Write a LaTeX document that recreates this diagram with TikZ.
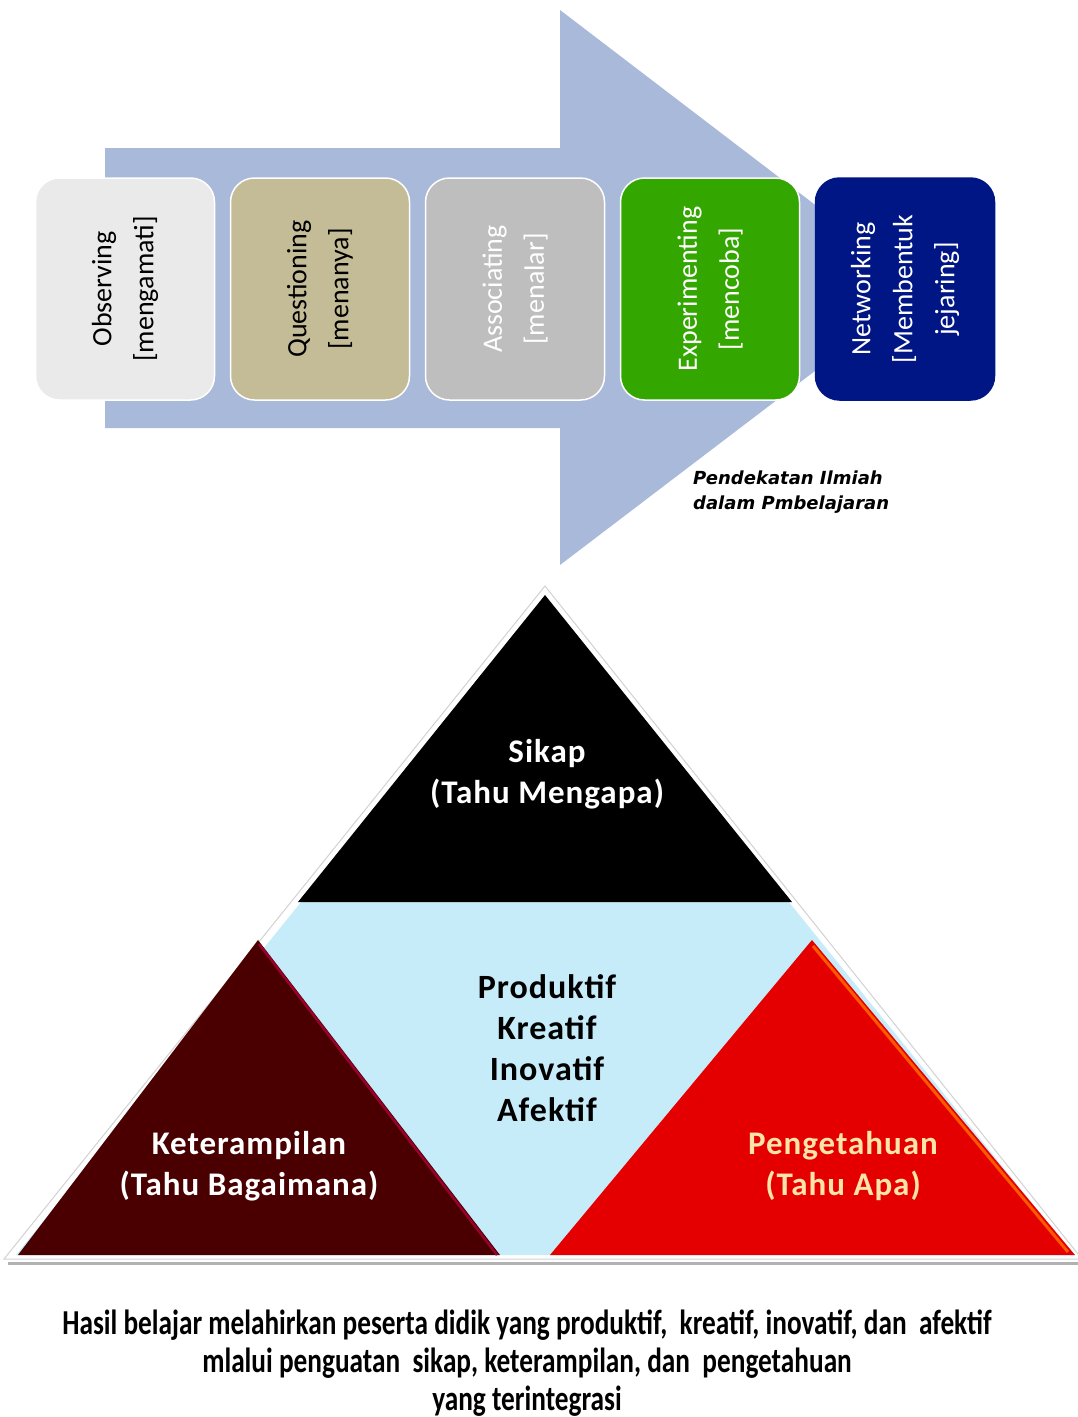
\documentclass[tikz,border=0pt]{standalone}
\usepackage{fontspec}
\setmainfont{Carlito}
\newfontfamily\narrowfont[FakeStretch=0.78]{Carlito}
\newfontfamily\pyrfont[LetterSpace=3]{Carlito}
\newfontfamily\notefont{DejaVu Sans}
\usetikzlibrary{positioning}
\definecolor{arrowblue}{RGB}{169,185,217}
\definecolor{obsgray}{RGB}{234,234,234}
\definecolor{questan}{RGB}{196,188,150}
\definecolor{assocgray}{RGB}{190,190,190}
\definecolor{expgreen}{RGB}{51,166,0}
\definecolor{netblue}{RGB}{0,22,132}
\definecolor{pyrblue}{RGB}{198,235,249}
\definecolor{maroon}{RGB}{74,0,0}
\definecolor{redtri}{RGB}{228,0,0}
\definecolor{peach}{RGB}{255,228,170}
\tikzset{
  stage/.style={draw=white, line width=1.5pt, rounded corners=24pt, minimum width=179pt, minimum height=222pt, inner sep=0pt}, % the five steps
  stagetext/.style={rotate=90, align=center, font=\fontsize{28}{42}\selectfont},
  pyrtext/.style={align=center, font=\pyrfont\bfseries\fontsize{33}{41}\selectfont},
}
\begin{document}
\begin{tikzpicture}[x=1pt, y=-1pt, node distance=14.5pt]
    \useasboundingbox (0,0) rectangle (1078,1417);

    % big arrow behind the steps
    \fill[arrowblue] (105,148) -- (560,148) -- (560,10) -- (924,288) -- (560,565) -- (560,428) -- (105,428) -- cycle;

    \node[stage, fill=obsgray] (obs) at (125,289) {};
    \node[stage, fill=questan, right=of obs] (que) {};
    \node[stage, fill=assocgray, right=of que] (aso) {};
    \node[stage, fill=expgreen, right=of aso] (eks) {};
    \node[stage, fill=netblue, draw=netblue, right=of eks] (net) {};

    \node[stagetext] (obs-t) at (obs) {Observing\\{[mengamati]}};
    \node[stagetext] (que-t) at (que) {Questioning\\{[menanya]}};
    \node[stagetext, text=white] (aso-t) at (aso) {Associating\\{[menalar]}};
    \node[stagetext, text=white] (eks-t) at (eks) {Experimenting\\{[mencoba]}};
    \node[stagetext, text=white] (net-t) at (net) {Networking\\{[Membentuk}\\jejaring]};

    \node[anchor=north west, align=left, inner sep=0pt, font=\notefont\bfseries\itshape\fontsize{18}{25}\selectfont] (note) at (693,471) {Pendekatan Ilmiah\\dalam Pmbelajaran};

    % pyramid
    \draw[gray!60, line width=3pt] (8,1263) -- (1078,1263);
    \filldraw[fill=white, draw=gray!35, line width=1pt] (545,586) -- (4,1259) -- (1082,1259) -- cycle;
    \fill[pyrblue] (545,600) -- (16,1255) -- (1074,1255) -- cycle;
    \fill[black] (545,595) -- (792,902) -- (298,902) -- cycle;
    \fill[maroon] (258,940) -- (500,1255) -- (18,1255) -- cycle;
    \draw[red!70!magenta!60!black, line width=2.5pt] (259,944) -- (497,1255);
    \fill[redtri] (812,940) -- (1075,1255) -- (550,1255) -- cycle;
    \draw[orange!70!red, line width=3pt] (813,946) -- (1068,1252);

    \node[pyrtext, text=white] (sikap) at (547,774) {Sikap\\(Tahu Mengapa)};
    \node[align=center, font=\pyrfont\bfseries\fontsize{34}{41}\selectfont] (mid) at (547,1048) {Produktif\\Kreatif\\Inovatif\\Afektif};
    \node[pyrtext, text=white] (ket) at (249,1166) {Keterampilan\\(Tahu Bagaimana)};
    \node[pyrtext, text=peach] (peng) at (843,1166) {Pengetahuan\\(Tahu Apa)};

    \node[align=center, font=\narrowfont\bfseries\fontsize{35}{38}\selectfont] (hasil) at (527,1363) {Hasil belajar melahirkan peserta didik yang produktif,~ kreatif, inovatif, dan~ afektif\\mlalui penguatan~ sikap, keterampilan, dan~ pengetahuan\\yang terintegrasi};
\end{tikzpicture}
\end{document}
